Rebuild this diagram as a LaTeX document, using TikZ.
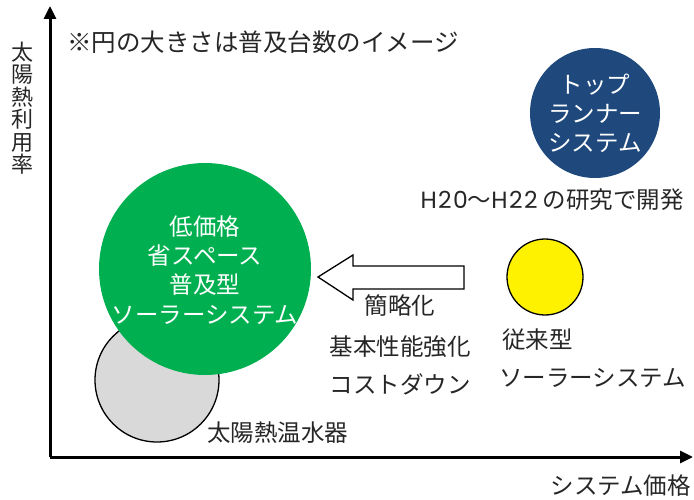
\documentclass[tikz,border=0pt]{standalone}
\usepackage{fontspec}
\setmainfont{Noto Sans CJK JP}
\newfontfamily\latinw[LetterSpace=6]{Poppins}
\usetikzlibrary{arrows.meta}
\definecolor{txtgray}{HTML}{262626}
\definecolor{grn}{HTML}{00B050}
\definecolor{navy}{HTML}{1F497D}
\definecolor{lgray}{HTML}{D9D9D9}
\tikzset{
  lbl/.style={font=\fontsize{23.5}{27}\selectfont, text=txtgray, inner sep=0pt, align=center},
  inlbl/.style={font=\fontsize{23.5}{29.2}\selectfont, text=white, inner sep=0pt, align=center},
  axis/.style={line width=3pt, -{Triangle[length=13pt,width=12pt]}},
  bubble/.style={circle, inner sep=0pt}
}
\begin{document}
\begin{tikzpicture}[x=1pt,y=-1pt]
\useasboundingbox (0,0) rectangle (694,500);
% axes
\coordinate (o) at (50,457);
\coordinate (ytop) at (50,6);
\coordinate (xend) at (693,457);
\draw[axis] (o) -- (ytop);
\draw[axis] (o) -- (xend);
% axis labels
\node[lbl, font=\fontsize{22}{22.5}\selectfont] (ylab) at (23,108) {太\\陽\\熱\\利\\用\\率};
\node[lbl, anchor=east] (xlab) at (691,486) {システム価格};
\node[lbl, anchor=west, font=\fontsize{24.5}{27}\selectfont] (note) at (67,42) {※円の大きさは普及台数のイメージ};
% circles
\node[bubble, fill=lgray, draw=black, line width=1.3pt, minimum size=124pt] (solar) at (157,380) {};
\node[bubble, fill=grn, minimum size=212pt] (popular) at (205,269) {};
\node[inlbl] at ([yshift=-1pt]popular) {低価格\\省スペース\\普及型\\ソーラーシステム};
\node[bubble, fill=navy, minimum size=130pt] (top) at (595,113) {};
\node[inlbl] at (top) {トップ\\ランナー\\システム};
\node[bubble, fill=yellow, draw=black, line width=1.3pt, minimum size=76pt] (conv) at (545,277) {};
% labels
\node[lbl, anchor=east] (dev) at (684,200) {{\latinw H20}～{\latinw H22} の研究で開発};
\node[lbl, anchor=west] (solarlab) at (207,433) {太陽熱温水器};
\node[lbl, anchor=west] (conv1) at (502,340) {従来型};
\node[lbl, anchor=west] (conv2) at (499,378) {ソーラーシステム};
\node[lbl] (a1) at (400,306) {簡略化};
\node[lbl] (a2) at (400,347) {基本性能強化};
\node[lbl] (a3) at (400,384) {コストダウン};
% block arrow
\draw[line width=1.3pt, fill=white, line join=miter]
  (318,277) -- (353,255) -- (353,266) -- (464,266) -- (464,289) -- (353,289) -- (353,300) -- cycle;
\end{tikzpicture}
\end{document}
